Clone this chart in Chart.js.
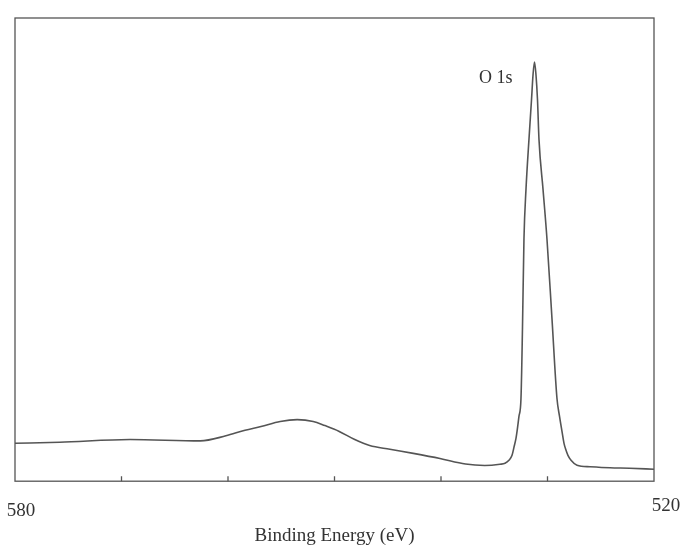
<!DOCTYPE html>
<html>
<head>
<meta charset="utf-8">
<script src="https://cdn.jsdelivr.net/npm/chart.js@4/dist/chart.umd.min.js"></script>
<style>
  html, body { margin: 0; padding: 0; background: #ffffff; }
  #wrap { width: 681px; height: 546px; position: relative; }
</style>
</head>
<body>
<div id="wrap"><canvas id="c" width="681" height="546"></canvas></div>
<script>
// Binding energy (eV) and intensity (arbitrary units)
const bindingEnergy = [580.0, 575.8, 569.2, 562.6, 560.2, 558.4, 556.9, 555.1, 553.5, 552.0,
  550.9, 549.6, 548.1, 546.7, 544.8, 542.6, 540.1, 537.7, 535.9,
  534.46, 533.99, 533.62, 533.33, 533.15, 532.96, 532.86, 532.68, 532.49, 532.35, 532.21,
  532.02, 531.74, 531.50, 531.36, 531.22,
  531.08, 530.94, 530.80, 530.42, 530.05, 529.58, 529.11, 528.87, 528.64, 528.45, 528.26,
  528.08, 527.79, 527.23, 526.01, 524.13, 522.3, 520.0];
const intensity = [8.2, 8.4, 9.0, 8.7, 9.8, 11.0, 11.8, 12.9, 13.3, 12.9,
  12.0, 10.8, 9.0, 7.7, 6.9, 6.0, 4.9, 3.7, 3.4,
  3.66, 3.87, 4.52, 5.59, 7.31, 9.25, 10.75, 13.98, 17.85, 32.9, 52.3,
  63.0, 73.8, 82.4, 87.7, 90.5,
  87.7, 82.4, 73.8, 63.0, 52.3, 35.1, 17.85, 13.98, 10.75, 8.17, 6.67,
  5.59, 4.52, 3.44, 3.12, 2.90, 2.8, 2.58];
const tickValues = [570, 560, 550, 540, 530];
const edgeLabels = [580, 520];
const peakLabel = 'O 1s';
const peakEnergy = 531.22;
const peakIntensity = 90.5;
const axisTitle = 'Binding Energy (eV)';

const points = bindingEnergy.map((e, i) => ({ x: e, y: intensity[i] }));

const framePlugin = {
  id: 'frame',
  afterDraw(chart) {
    const ctx = chart.ctx;
    const a = chart.chartArea;
    const xs = chart.scales.x;
    const ys = chart.scales.y;
    ctx.save();
    ctx.strokeStyle = '#555';
    ctx.lineWidth = 1.3;
    ctx.strokeRect(a.left, a.top, a.right - a.left, a.bottom - a.top);
    // inward tick marks on the bottom axis
    ctx.beginPath();
    tickValues.forEach(v => {
      const px = xs.getPixelForValue(v);
      ctx.moveTo(px, a.bottom);
      ctx.lineTo(px, a.bottom - 5);
    });
    ctx.stroke();
    // edge labels
    ctx.fillStyle = '#333';
    ctx.font = '19px "Liberation Serif", serif';
    ctx.textBaseline = 'middle';
    ctx.textAlign = 'center';
    ctx.fillText(String(edgeLabels[0]), xs.getPixelForValue(edgeLabels[0]) + 6, a.bottom + 30);
    ctx.fillText(String(edgeLabels[1]), xs.getPixelForValue(edgeLabels[1]) + 12, a.bottom + 25);
    // peak label
    ctx.font = '18px "Liberation Serif", serif';
    ctx.textAlign = 'right';
    ctx.textBaseline = 'alphabetic';
    ctx.fillText(peakLabel, xs.getPixelForValue(peakEnergy) - 22, ys.getPixelForValue(peakIntensity) + 21);
    ctx.restore();
  }
};

new Chart(document.getElementById('c'), {
  type: 'line',
  data: {
    datasets: [{
      data: points,
      borderColor: '#555',
      borderWidth: 1.6,
      pointRadius: 0,
      fill: false,
      cubicInterpolationMode: 'monotone'
    }]
  },
  options: {
    responsive: false,
    animation: false,
    layout: { padding: { left: 15, right: 27, top: 18, bottom: 0 } },
    plugins: { legend: { display: false }, tooltip: { enabled: false } },
    scales: {
      x: {
        type: 'linear',
        min: 520,
        max: 580,
        reverse: true,
        grid: { display: false, drawTicks: false },
        border: { display: false },
        ticks: { display: false },
        title: {
          display: true,
          text: axisTitle,
          color: '#333',
          font: { family: '"Liberation Serif", serif', size: 19 },
          padding: { top: 43, bottom: -1 }
        }
      },
      y: {
        display: false,
        min: 0,
        max: 100
      }
    }
  },
  plugins: [framePlugin]
});
</script>
</body>
</html>
